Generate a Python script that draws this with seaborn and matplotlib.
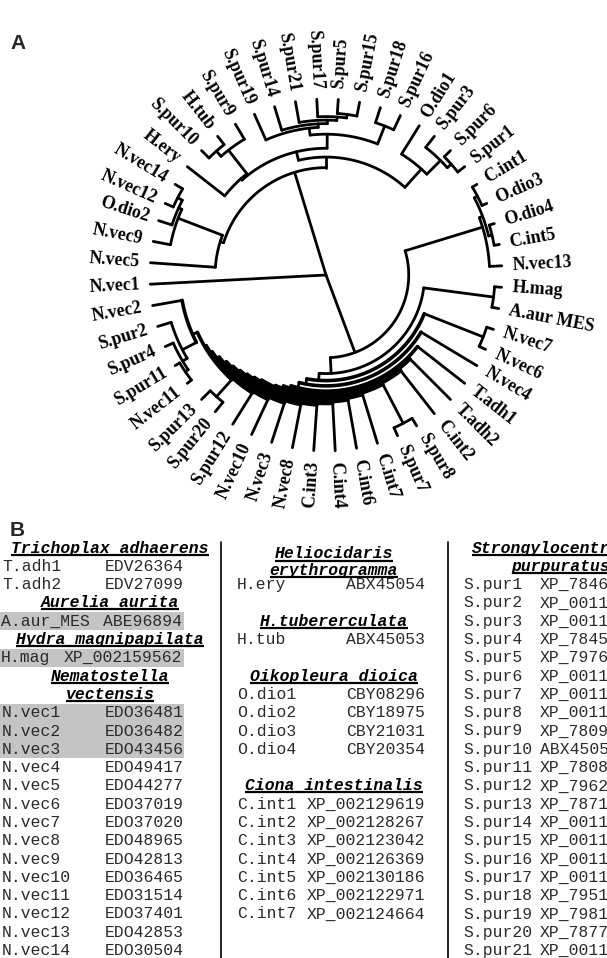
import numpy as np
import pandas as pd
import matplotlib
matplotlib.use("Agg")
import matplotlib.pyplot as plt
from matplotlib.patches import Rectangle
import seaborn as sns

# ---------------- panel A : circular tree ----------------
# leaves counter-clockwise starting at N.vec2 (left side), angle in degrees (unwrapped)
leaf_names = ["N.vec2", "S.pur2", "S.pur4", "S.pur11", "N.vec11", "S.pur13", "S.pur20",
              "S.pur12", "N.vec10", "N.vec3", "N.vec8", "C.int3", "C.int4", "C.int6",
              "C.int7", "S.pur7", "S.pur8", "C.int2", "T.adh2", "T.adh1", "N.vec4",
              "N.vec6", "N.vec7", "A.aur MES", "H.mag", "N.vec13", "C.int5", "O.dio4",
              "O.dio3", "C.int1", "S.pur1", "S.pur6", "S.pur3", "O.dio1", "S.pur16",
              "S.pur18", "S.pur15", "S.pur5", "S.pur17", "S.pur21", "S.pur14", "S.pur19",
              "S.pur9", "H.tub", "S.pur10", "H.ery", "N.vec14", "N.vec12", "O.dio2",
              "N.vec9", "N.vec5", "N.vec1"]
leaf_angles = [190, 197, 204, 211, 218, 225, 231, 238, 245, 252, 259, 266, 273, 280,
               287, 294, 301, 308, 315, 322, 329, 335, 342, 349, 356, 363, 370, 377,
               384, 391, 398, 405, 412, 418, 425, 432, 439, 446, 453, 460, 467, 474,
               481, 488, 495, 502, 509, 516, 522, 529, 536, 543]

# internal nodes: (name, radius as fraction of tip radius, children)
clades = [
    ("root", 0.00, ["L", "N.vec1", "U"]),
    ("U", 0.61, ["B", "A"]),
    ("A", 0.63, ["A1", "N.vec5"]),
    ("A1", 0.90, ["A2", "N.vec9"]),
    ("A2", 0.92, ["A3", "O.dio2"]),
    ("A3", 0.95, ["N.vec14", "N.vec12"]),
    ("B", 0.67, ["C", "Bx"]),
    ("C", 0.81, ["C1", "O.dio1"]),
    ("C1", 0.92, ["C2", "S.pur3"]),
    ("C2", 0.95, ["S.pur1", "S.pur6"]),
    ("Bx", 0.72, ["T", "B1"]),
    ("T", 0.80, ["Ta", "Tb"]),
    ("Ta", 0.91, ["S.pur16", "S.pur18"]),
    ("Tb", 0.84, ["Tc", "S.pur19"]),
    ("Tc", 0.86, ["Td", "S.pur14"]),
    ("Td", 0.88, ["Te", "S.pur21"]),
    ("Te", 0.90, ["Tf", "S.pur17"]),
    ("Tf", 0.92, ["S.pur15", "S.pur5"]),
    ("B1", 0.73, ["B1a", "H.ery"]),
    ("B1a", 0.90, ["S.pur9", "B1b"]),
    ("B1b", 0.94, ["H.tub", "S.pur10"]),
    ("L", 0.47, ["Lb", "CI"]),
    ("CI", 0.93, ["N.vec13", "CIa"]),
    ("CIa", 0.95, ["CIb", "CIc"]),
    ("CIb", 0.97, ["C.int5", "O.dio4"]),
    ("CIc", 0.97, ["O.dio3", "C.int1"]),
    ("Lb", 0.56, ["Lc1", "Hm"]),
    ("Hm", 0.96, ["A.aur MES", "H.mag"]),
    ("Lc1", 0.60, ["Lc2", "N67"]),
    ("N67", 0.96, ["N.vec6", "N.vec7"]),
    ("Lc2", 0.63, ["Lc3", "N.vec4"]),
    ("Lc3", 0.66, ["Lc4", "T.adh1"]),
    ("Lc4", 0.675, ["Lc5", "T.adh2"]),
    ("Lc5", 0.69, ["Lc6", "C.int2"]),
    ("Lc6", 0.70, ["Lc7", "Sp78"]),
    ("Sp78", 0.95, ["S.pur7", "S.pur8"]),
    ("Lc7", 0.71, ["Lc8", "C.int7"]),
    ("Lc8", 0.72, ["Lc9", "C.int6"]),
    ("Lc9", 0.73, ["Lc10", "C.int4"]),
    ("Lc10", 0.74, ["Lc11", "C.int3"]),
    ("Lc11", 0.75, ["Lc12", "N.vec8"]),
    ("Lc12", 0.765, ["Lc13", "N.vec3"]),
    ("Lc13", 0.78, ["Lc14", "N.vec10"]),
    ("Lc14", 0.79, ["Lc15", "S.pur12"]),
    ("Lc15", 0.80, ["Lc16", "Sp1320"]),
    ("Sp1320", 0.93, ["S.pur13", "S.pur20"]),
    ("Lc16", 0.83, ["N.vec2", "Sg"]),
    ("Sg", 0.92, ["S.pur2", "Sg2"]),
    ("Sg2", 0.95, ["S.pur4", "Sg3"]),
    ("Sg3", 0.97, ["S.pur11", "N.vec11"]),
]

# ---------------- panel B : accession table ----------------
tadh_acc = ["EDV26364", "EDV27099"]
aaur_acc = ["ABE96894"]
hmag_acc = ["XP_002159562"]
nvec_acc = ["EDO36481", "EDO36482", "EDO43456", "EDO49417", "EDO44277", "EDO37019",
            "EDO37020", "EDO48965", "EDO42813", "EDO36465", "EDO31514", "EDO37401",
            "EDO42853", "EDO30504"]
hery_acc = ["ABX45054"]
htub_acc = ["ABX45053"]
odio_acc = ["CBY08296", "CBY18975", "CBY21031", "CBY20354"]
cint_acc = ["XP_002129619", "XP_002128267", "XP_002123042", "XP_002126369",
            "XP_002130186", "XP_002122971", "XP_002124664"]
spur_acc = ["XP_7846", "XP_0011", "XP_0011", "XP_7845", "XP_7976", "XP_0011", "XP_0011",
            "XP_0011", "XP_7809", "ABX4505", "XP_7808", "XP_7962", "XP_7871", "XP_0011",
            "XP_0011", "XP_0011", "XP_0011", "XP_7951", "XP_7981", "XP_7877", "XP_0011"]
highlighted = ["A.aur_MES", "H.mag", "N.vec1", "N.vec2", "N.vec3"]

sns.set_theme(style="white")
plt.rcParams["font.family"] = ["DejaVu Sans"]

W, H = 607, 958
fig = plt.figure(figsize=(W / 100, H / 100), dpi=100)

# full-figure axes in pixel units for the table and panel letters
axb = fig.add_axes([0, 0, 1, 1])
axb.set_xlim(0, W)
axb.set_ylim(H, 0)
axb.axis("off")

# tree axes: center at (326, 275) px, tip radius 176 px
cx, cy, R, top_h = 326, 275, 176, 510
axt = fig.add_axes([0, 1 - top_h / H, 1, top_h / H])
axt.set_xlim(-cx / R, (W - cx) / R)
axt.set_ylim((cy - top_h) / R, cy / R)
axt.axis("off")
axt.patch.set_alpha(0)

angle_of = dict(zip(leaf_names, leaf_angles))
node_rad = {n: r for n, r, k in clades}
node_kids = {n: k for n, r, k in clades}


def span(n):
    if n in angle_of:
        return angle_of[n], angle_of[n]
    s = [span(k) for k in node_kids[n]]
    return min(a for a, b in s), max(b for a, b in s)


def ang(n):
    a, b = span(n)
    return (a + b) / 2


def rad(n):
    return node_rad.get(n, 1.0)


rows = []
seg = 0
for name, r, kids in clades:
    kid_angles = [ang(k) for k in kids]
    # the long ladder at the bottom prints as a heavy black band
    heavy = name.startswith("Lc")
    if r > 0:
        t = np.radians(np.linspace(min(kid_angles), max(kid_angles), 60))
        for x, y in zip(r * np.cos(t), r * np.sin(t)):
            rows.append((seg, x, y, heavy))
        seg += 1
    for k, a in zip(kids, kid_angles):
        t = np.radians(a)
        for rr in (r, rad(k)):
            rows.append((seg, rr * np.cos(t), rr * np.sin(t), False))
        seg += 1
branches = pd.DataFrame(rows, columns=["seg", "x", "y", "heavy"])

sns.lineplot(data=branches[~branches.heavy], x="x", y="y", units="seg", estimator=None,
             sort=False, color="black", linewidth=2.0, ax=axt, legend=False)
sns.lineplot(data=branches[branches.heavy], x="x", y="y", units="seg", estimator=None,
             sort=False, color="black", linewidth=2.6, ax=axt, legend=False)
axt.axis("off")

for name, a in zip(leaf_names, leaf_angles):
    a = a % 360
    t = np.radians(a)
    x, y = 1.06 * np.cos(t), 1.06 * np.sin(t)
    if np.cos(t) >= 0:
        rot, ha = (a if a < 180 else a - 360), "left"
    else:
        rot, ha = a - 180, "right"
    axt.text(x, y, name, rotation=rot, rotation_mode="anchor", ha=ha, va="center",
             fontsize=12.8, fontweight="bold", family="Liberation Serif", color="black")

axb.text(18, 43, "A", fontsize=15, fontweight="bold", family="Liberation Sans",
         ha="center", va="center")
axb.text(17, 531, "B", fontsize=15, fontweight="bold", family="Liberation Sans",
         ha="center", va="center")

# ---------------- table ----------------
mono = "Liberation Mono"
fs = 11.8
row0, dy = 548, 18.3
headers = []


def ry(i):
    return row0 + dy * i


def header(x, y, txt):
    t = axb.text(x, y, txt, ha="center", va="center", family=mono, fontsize=fs,
                 fontweight="bold", fontstyle="italic", color="black")
    headers.append((t, y))


def entry(x_name, x_acc, y, name, acc, acc_ha="right"):
    if name in highlighted:
        axb.add_patch(Rectangle((0, y - 9), 184, 18, color="#c4c4c4", lw=0, zorder=0))
    axb.text(x_name, y, name, ha="left", va="center", family=mono, fontsize=fs,
             color="#2a2a2a")
    axb.text(x_acc, y, acc, ha=acc_ha, va="center", family=mono, fontsize=fs,
             color="#2a2a2a")


# column 1
header(110, ry(0), "Trichoplax adhaerens")
for i, acc in enumerate(tadh_acc):
    entry(2, 184, ry(1 + i), f"T.adh{i + 1}", acc)
header(110, ry(3), "Aurelia aurita")
entry(1, 182, ry(4), "A.aur_MES", aaur_acc[0])
header(110, ry(5), "Hydra magnipapilata")
entry(1, 182, ry(6), "H.mag", hmag_acc[0])
header(110, ry(7), "Nematostella")
header(110, ry(8), "vectensis")
for i, acc in enumerate(nvec_acc):
    entry(2, 184, ry(9 + i), f"N.vec{i + 1}", acc)

# column 2
header(334, 554, "Heliocidaris")
header(334, 570, "erythrogramma")
entry(237, 425, ry(2), "H.ery", hery_acc[0])
header(334, ry(4), "H.tubererculata")
entry(237, 425, ry(5), "H.tub", htub_acc[0])
header(334, ry(7), "Oikopleura dioica")
for i, acc in enumerate(odio_acc):
    entry(237, 425, ry(8 + i), f"O.dio{i + 1}", acc)
header(334, ry(13), "Ciona intestinalis")
for i, acc in enumerate(cint_acc):
    entry(237, 425, ry(14 + i), f"C.int{i + 1}", acc)

# column 3 (cut at the right edge, as in the source figure)
header(561, ry(0), "Strongylocentrotus")
header(561, ry(1), "purpuratus")
for i, acc in enumerate(spur_acc):
    entry(463, 540, ry(2 + i), f"S.pur{i + 1}", acc, acc_ha="left")

# column separators
for xs in (221, 448):
    axb.plot([xs, xs], [542, H], color="black", lw=1.2)

# underline the species headers
fig.canvas.draw()
renderer = fig.canvas.get_renderer()
inv = axb.transData.inverted()
for t, y in headers:
    bb = t.get_window_extent(renderer)
    (x0, _), (x1, _) = inv.transform([(bb.x0, bb.y0), (bb.x1, bb.y1)])
    axb.plot([x0, x1], [y + 6.5, y + 6.5], color="black", lw=1.6, solid_capstyle="butt")

fig.savefig("out.png", dpi=100)
